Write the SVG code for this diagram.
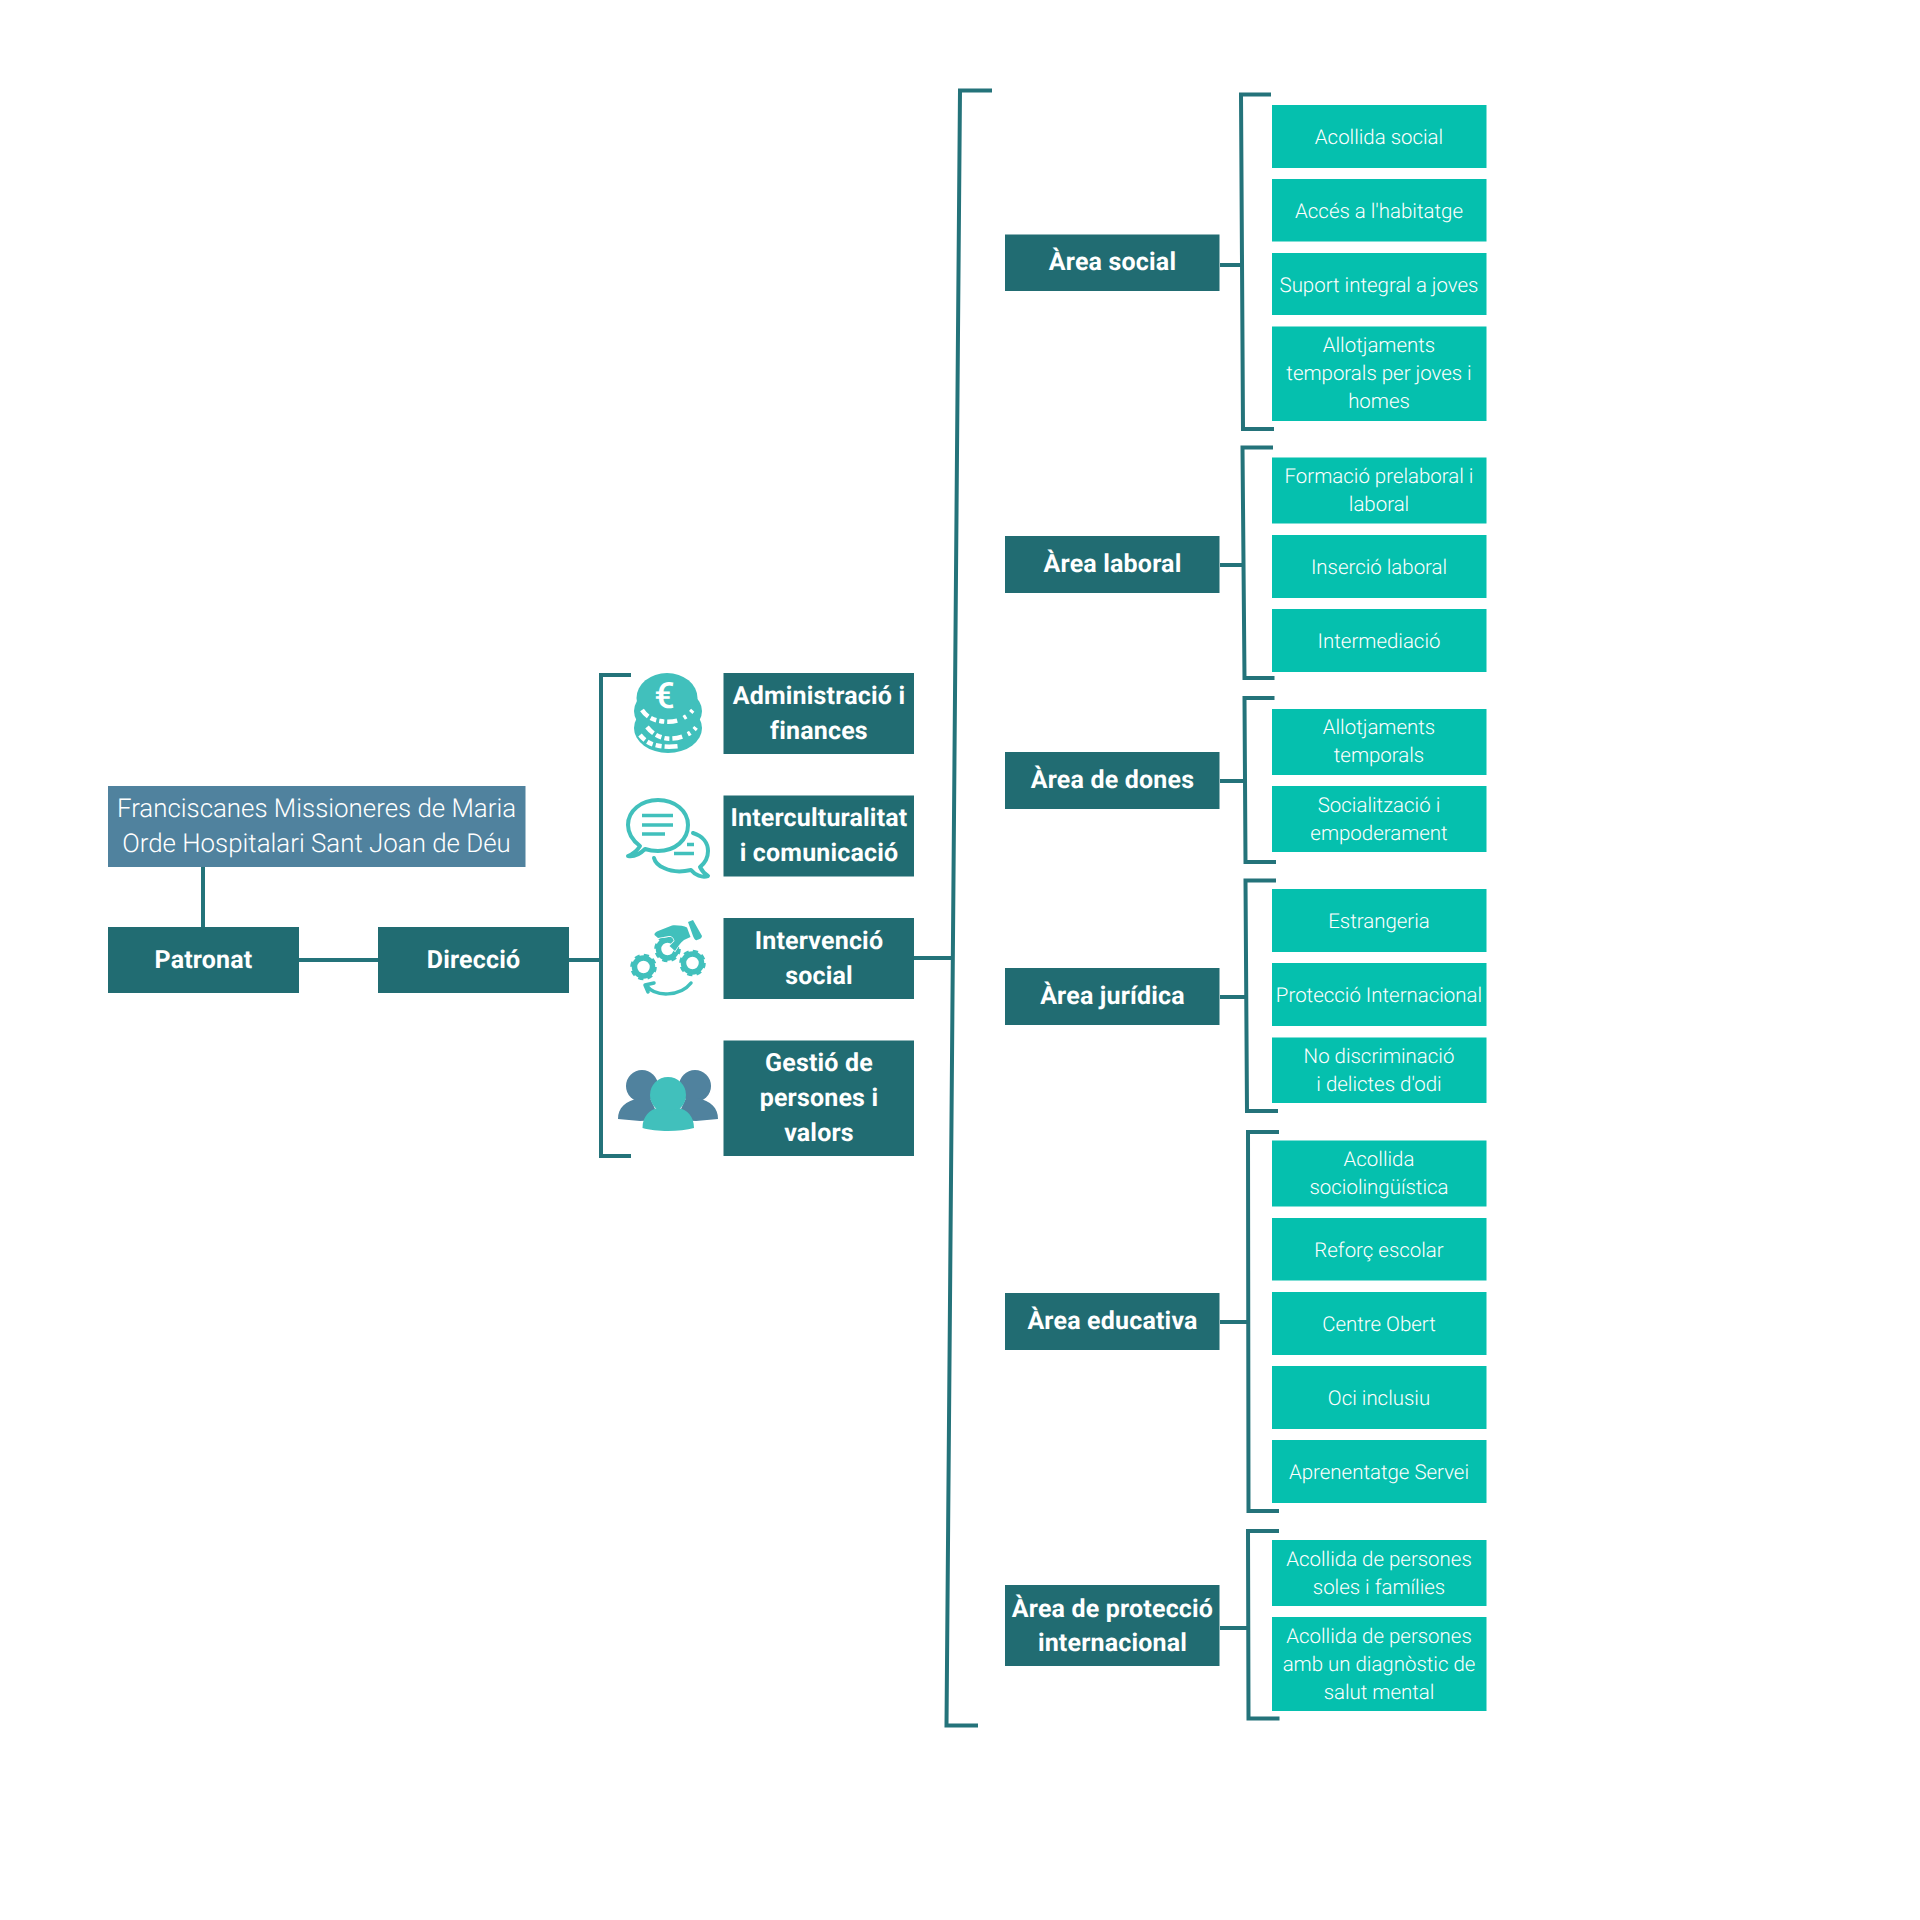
<svg xmlns="http://www.w3.org/2000/svg" xmlns:xlink="http://www.w3.org/1999/xlink" width="1920" height="1920" viewBox="0 0 1920 1920">
<style>
text{font-family:Roboto,"Liberation Sans",sans-serif;fill:#fff;text-anchor:middle;text-rendering:geometricPrecision}
.d{fill:#216c72}.t{fill:#05c0ae}.b{fill:#50829e}
.bt{font-size:25px;font-weight:700;letter-spacing:.18px}
.tt{font-size:20.45px;font-weight:300}
.ft{font-size:25.87px;font-weight:300}
.ln{fill:none;stroke:#24737a;stroke-width:4;stroke-linecap:butt;stroke-linejoin:miter}
.ic{fill:#41c0bc}.is{fill:none;stroke:#41c0bc;stroke-linejoin:round;stroke-linecap:round}
.dash{fill:none;stroke:#fff;stroke-width:4.500}
</style>
<defs>
<g id="gear"><circle r="9" fill="none" stroke="#41c0bc" stroke-width="5.5"/><circle r="11.5" fill="none" stroke="#41c0bc" stroke-width="3.6" stroke-dasharray="5 4.03"/></g>
</defs>
<rect width="1920" height="1920" fill="#fff"/>
<g id="connectors" class="ln">
<path d="M203 867V927"/><path d="M299 960H378"/><path d="M569 960H601"/>
<path d="M631 675H601V1156H631"/>
<path d="M914 958H952"/>
<path d="M992 90.500H960L946.500 1725.500H978"/>
<path d="M1220 265H1242"/><path d="M1271 94.500H1241L1243 429H1274"/>
<path d="M1220 565H1243"/><path d="M1273 447.500H1242.500L1244.500 678H1274.500"/>
<path d="M1220 781H1245"/><path d="M1274.500 698H1244.500L1245.500 862H1276"/>
<path d="M1220 997H1246"/><path d="M1276 880.500H1245.500L1247 1111H1278"/>
<path d="M1220 1322H1248"/><path d="M1279 1132H1248L1248.500 1511H1279"/>
<path d="M1220 1628H1248"/><path d="M1279 1531H1248L1248.500 1718.500H1279.500"/>
</g>
<g id="franciscanes"><rect class="b" x="108" y="786" width="417.500" height="81"/><text class="ft" x="316.500" y="817">Franciscanes Missioneres de Maria</text><text class="ft" x="316.500" y="852">Orde Hospitalari Sant Joan de Déu</text></g>
<g id="patronat"><rect class="d" x="108" y="927" width="191" height="66"/><text class="bt" x="203.500" y="968">Patronat</text></g>
<g id="direccio"><rect class="d" x="378" y="927" width="191" height="66"/><text class="bt" x="473.500" y="968">Direcció</text></g>

<g id="admin"><rect class="d" x="723.500" y="673" width="190.500" height="81"/><text class="bt" x="819" y="704">Administració i</text><text class="bt" x="819" y="739">finances</text></g>
<g id="inter"><rect class="d" x="723.500" y="795.500" width="190.500" height="81"/><text class="bt" x="819" y="826">Interculturalitat</text><text class="bt" x="819" y="861">i comunicació</text></g>
<g id="intervencio"><rect class="d" x="723.500" y="918" width="190.500" height="81"/><text class="bt" x="819" y="949">Intervenció</text><text class="bt" x="819" y="984">social</text></g>
<g id="gestio"><rect class="d" x="723.500" y="1040.500" width="190.500" height="115.500"/><text class="bt" x="819" y="1071">Gestió de</text><text class="bt" x="819" y="1106">persones i</text><text class="bt" x="819" y="1141">valors</text></g>

<g id="icon-coins">
<ellipse class="ic" cx="668" cy="728" rx="34" ry="25"/>
<ellipse class="ic" cx="668" cy="711" rx="34" ry="24"/>
<ellipse class="ic" cx="667" cy="698" rx="30.500" ry="25"/>
<path class="dash" stroke-dasharray="9 3 6 3 5 3 10 7 3 6 3" d="M642 710C646 716 652 720 660 721C670 723 680 721 685 717C689 715 691 712 693 710"/>
<path class="dash" stroke-dasharray="9 3 6 3 5 3 10 6 3 5 3" d="M647 727C651 732 656 736 664 738C673 740 683 737 690 733C693 731 695 729 697 726"/>
<path class="dash" stroke-dasharray="7 3 6 3 6 3 13 3" d="M640 735C644 740 648 743 655 745C663 747 671 747 679 746"/>
<text x="664.500" y="708" style="font-size:36px;font-weight:500;fill:#fff">€</text>
</g>
<g id="icon-chat" class="is">
<path stroke-width="4" d="M640 846C632 840 628 833 628 825C628 811 641 800 658 800C675 800 688 811 688 825C688 840 675 851 658 851C653 851 648 850 645 849C640 854 634 857 628 856C633 854 637 851 640 846Z"/>
<path stroke-width="4" d="M693 833C703 836 708 843 708 851C708 858 705 863 700 867C702 871 705 874 708 876C702 878 695 875 691 870C682 872 672 872 664 868C659 866 655 862 654 858"/>
<path stroke-width="3.500" style="stroke-linecap:butt" d="M642 815.500H673M642 825H673M642 834H665M687 844.500H694M674 853.500H694"/>
</g>
<g id="icon-gears">
<use xlink:href="#gear" href="#gear" x="643.500" y="967"/>
<use xlink:href="#gear" href="#gear" x="692.500" y="963"/>
<use xlink:href="#gear" href="#gear" x="667.500" y="949"/>
<path class="ic" stroke="#fff" stroke-width="1.500" paint-order="stroke" d="M654.500 935C654 933 656 932 658 931L672 925.500C677 925 684 926 687 927.500L690.500 937L684 940C680 943 677 948 675 951L669.500 946L674.500 941C674 938 672 936 669 936L658 938Z"/>
<path class="ic" d="M688 922L693 920L702 936C702 938 700 939 697 940C695 941 694 938 693 936Z"/>
<path class="is" stroke-width="3.500" d="M691 983C680 997 655 997 647 986M654 983L645 985L648 992"/>
</g>
<g id="icon-people">
<circle class="b" cx="642" cy="1086" r="16"/><circle class="b" cx="695" cy="1086" r="16"/>
<path class="b" d="M618 1119C618 1108 625 1101 640 1098H650L660 1120L640 1121ZM718 1119C718 1108 711 1101 697 1098H686L676 1120L696 1121Z"/>
<circle class="ic" cx="668" cy="1095" r="18"/>
<path class="ic" d="M642.500 1128C642.500 1116 650 1110 657 1108C664 1112 672 1112 679 1108C687 1110 694 1116 694 1128C680 1132 656 1132 642.500 1128Z"/>
</g>

<g id="area-social"><rect class="d" x="1005" y="234.500" width="214.500" height="56.500"/><text class="bt" x="1112.500" y="270">Àrea social</text></g>
<g id="area-laboral"><rect class="d" x="1005" y="536" width="214.500" height="57"/><text class="bt" x="1112.500" y="572">Àrea laboral</text></g>
<g id="area-dones"><rect class="d" x="1005" y="752" width="214.500" height="57"/><text class="bt" x="1112.500" y="788">Àrea de dones</text></g>
<g id="area-juridica"><rect class="d" x="1005" y="968" width="214.500" height="57"/><text class="bt" x="1112.500" y="1004">Àrea jurídica</text></g>
<g id="area-educativa"><rect class="d" x="1005" y="1293" width="214.500" height="57"/><text class="bt" x="1112.500" y="1329">Àrea educativa</text></g>
<g id="area-proteccio"><rect class="d" x="1005" y="1585" width="214.500" height="81"/><text class="bt" x="1112.500" y="1616.500">Àrea de protecció</text><text class="bt" x="1112.500" y="1651">internacional</text></g>

<g id="s1"><rect class="t" x="1272" y="105" width="214.500" height="63"/><text class="tt" x="1379" y="144">Acollida social</text></g>
<g id="s2"><rect class="t" x="1272" y="179" width="214.500" height="62.500"/><text class="tt" x="1379" y="218">Accés a l'habitatge</text></g>
<g id="s3"><rect class="t" x="1272" y="253" width="214.500" height="62"/><text class="tt" x="1379" y="292">Suport integral a joves</text></g>
<g id="s4"><rect class="t" x="1272" y="326.500" width="214.500" height="94.500"/><text class="tt" x="1379" y="352">Allotjaments</text><text class="tt" x="1379" y="380">temporals per joves i</text><text class="tt" x="1379" y="408">homes</text></g>
<g id="l1"><rect class="t" x="1272" y="457.500" width="214.500" height="66"/><text class="tt" x="1379" y="483">Formació prelaboral i</text><text class="tt" x="1379" y="511">laboral</text></g>
<g id="l2"><rect class="t" x="1272" y="535" width="214.500" height="63"/><text class="tt" x="1379" y="574">Inserció laboral</text></g>
<g id="l3"><rect class="t" x="1272" y="609" width="214.500" height="63"/><text class="tt" x="1379" y="648">Intermediació</text></g>
<g id="d1"><rect class="t" x="1272" y="709" width="214.500" height="66"/><text class="tt" x="1379" y="734">Allotjaments</text><text class="tt" x="1379" y="762">temporals</text></g>
<g id="d2"><rect class="t" x="1272" y="786" width="214.500" height="66"/><text class="tt" x="1379" y="812">Socialització i</text><text class="tt" x="1379" y="840">empoderament</text></g>
<g id="j1"><rect class="t" x="1272" y="889" width="214.500" height="63"/><text class="tt" x="1379" y="928">Estrangeria</text></g>
<g id="j2"><rect class="t" x="1272" y="963" width="214.500" height="63"/><text class="tt" x="1379" y="1002">Protecció Internacional</text></g>
<g id="j3"><rect class="t" x="1272" y="1037.500" width="214.500" height="65.500"/><text class="tt" x="1379" y="1063">No discriminació</text><text class="tt" x="1379" y="1091">i delictes d'odi</text></g>
<g id="e1"><rect class="t" x="1272" y="1140.500" width="214.500" height="66"/><text class="tt" x="1379" y="1166">Acollida</text><text class="tt" x="1379" y="1194">sociolingüística</text></g>
<g id="e2"><rect class="t" x="1272" y="1218" width="214.500" height="62.500"/><text class="tt" x="1379" y="1257">Reforç escolar</text></g>
<g id="e3"><rect class="t" x="1272" y="1292" width="214.500" height="63"/><text class="tt" x="1379" y="1331">Centre Obert</text></g>
<g id="e4"><rect class="t" x="1272" y="1366" width="214.500" height="63"/><text class="tt" x="1379" y="1405">Oci inclusiu</text></g>
<g id="e5"><rect class="t" x="1272" y="1440" width="214.500" height="63"/><text class="tt" x="1379" y="1479">Aprenentatge Servei</text></g>
<g id="p1"><rect class="t" x="1272" y="1540" width="214.500" height="66"/><text class="tt" x="1379" y="1566">Acollida de persones</text><text class="tt" x="1379" y="1594">soles i famílies</text></g>
<g id="p2"><rect class="t" x="1272" y="1617" width="214.500" height="94"/><text class="tt" x="1379" y="1643">Acollida de persones</text><text class="tt" x="1379" y="1671">amb un diagnòstic de</text><text class="tt" x="1379" y="1699">salut mental</text></g>
</svg>
